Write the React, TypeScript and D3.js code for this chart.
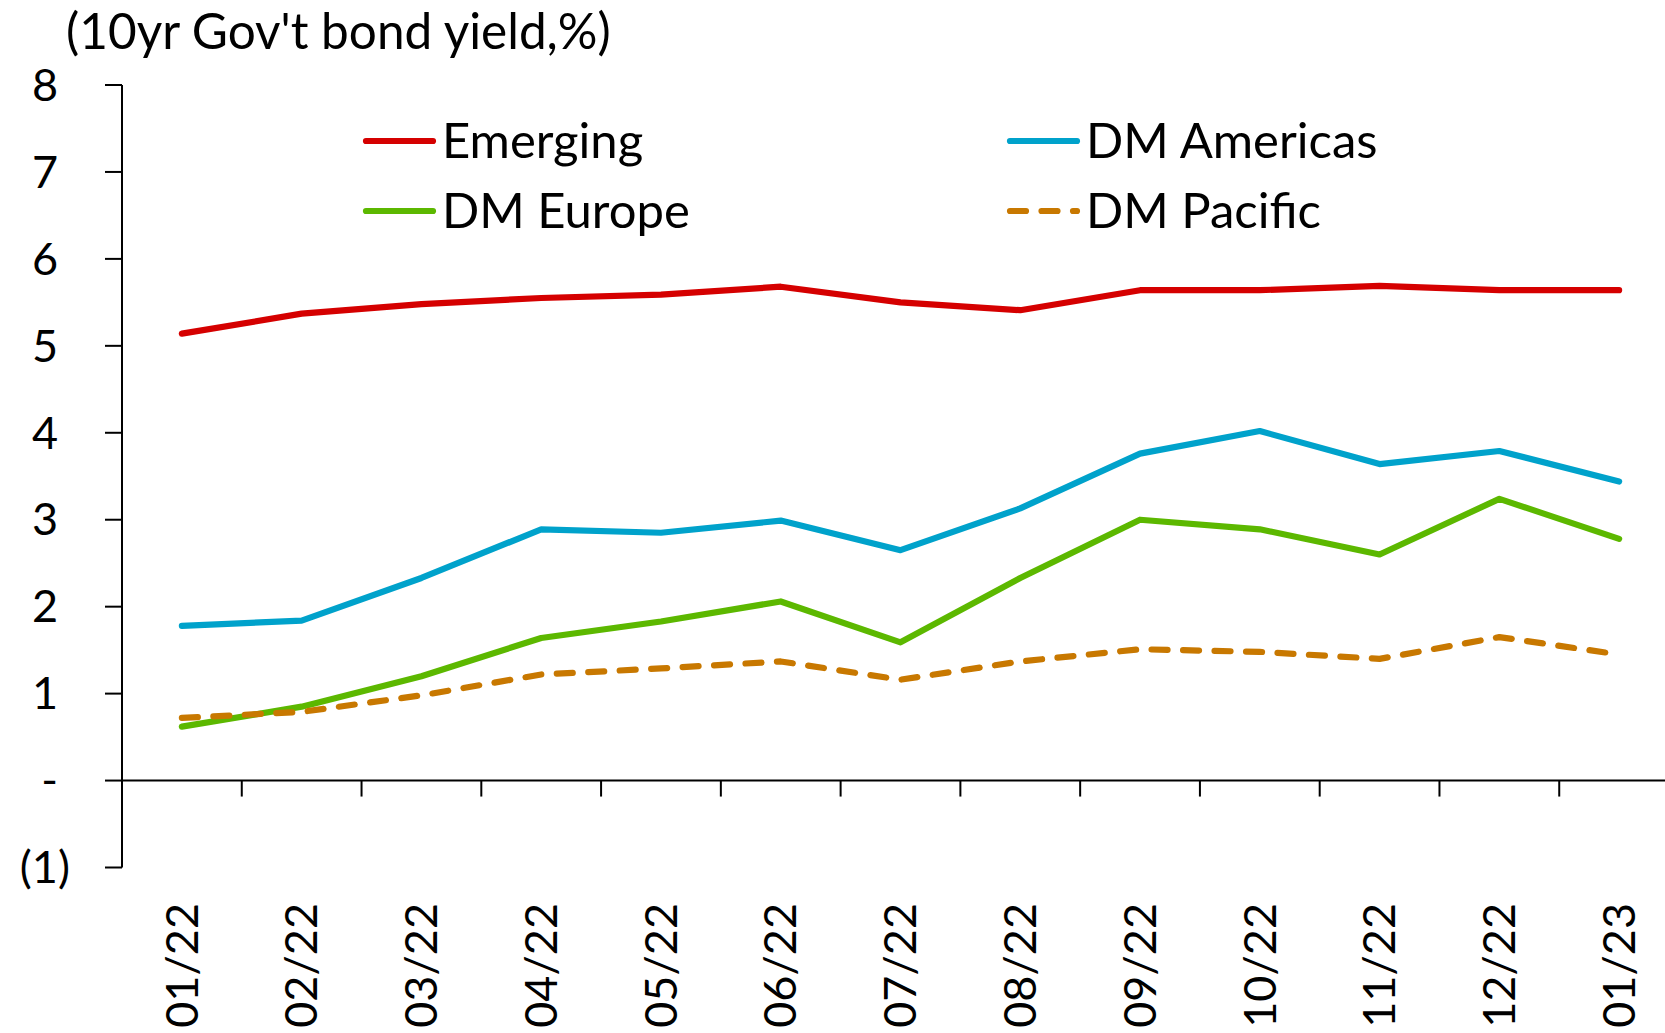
import React from "react";
import * as d3 from "d3";

const categories = ["01/22","02/22","03/22","04/22","05/22","06/22","07/22","08/22","09/22","10/22","11/22","12/22","01/23"];
const emerging = [5.14,5.37,5.48,5.55,5.59,5.68,5.50,5.41,5.64,5.64,5.69,5.64,5.64];
const dmAmericas = [1.78,1.84,2.33,2.89,2.85,2.99,2.65,3.13,3.76,4.02,3.64,3.79,3.44];
const dmEurope = [0.62,0.85,1.20,1.64,1.83,2.06,1.59,2.33,3.00,2.89,2.60,3.24,2.78];
const dmPacific = [0.72,0.79,0.98,1.22,1.29,1.37,1.16,1.37,1.51,1.48,1.40,1.65,1.45];
const yTicks = [-1,0,1,2,3,4,5,6,7,8];
const seriesNames = ["Emerging","DM Americas","DM Europe","DM Pacific"];
const titleText = "(10yr Gov't bond yield,%)";

const W = 1665, H = 1033;
const FONT = "Lato, 'Open Sans', sans-serif";
const FS_TICK = 45;
const FS_LEG = 49;
const FS_TITLE = 49.5;
const SW = 6.2;

export default function App() {
  const x = d3.scaleBand<string>().domain(categories).range([122, 1679]).padding(0);
  const y = d3.scaleLinear().domain([-1, 8]).range([867.5, 85]);
  const cx = (c: string) => (x(c) as number) + x.bandwidth() / 2;
  const line = d3.line<number>().x((_, i) => cx(categories[i])).y((d) => y(d));

  const series = [
    { name: seriesNames[0], values: emerging, color: "#d50000", dash: null },
    { name: seriesNames[1], values: dmAmericas, color: "#00a2cb", dash: null },
    { name: seriesNames[2], values: dmEurope, color: "#5cb800", dash: null },
    { name: seriesNames[3], values: dmPacific, color: "#c87800", dash: "16 15.5" },
  ];
  const legendPos = [
    { x: 366, y: 141 },
    { x: 1010, y: 141 },
    { x: 366, y: 211 },
    { x: 1010, y: 211 },
  ];
  const fmt = (v: number) => (v === 0 ? "-" : v < 0 ? `(${Math.abs(v)})` : `${v}`);
  const x0 = x.range()[0];
  const yZero = y(0);

  return (
    <svg width={W} height={H} style={{ position: "absolute", left: 0, top: 0, background: "#fff" }} fontFamily={FONT}>
      <text x={66} y={49} fontSize={FS_TITLE} fill="#000">{titleText}</text>
      {/* y axis */}
      <line x1={x0} x2={x0} y1={y(8)} y2={y(-1)} stroke="#000" strokeWidth={2} />
      {yTicks.map((t) => (
        <g key={t}>
          <line x1={x0 - 17} x2={x0} y1={y(t)} y2={y(t)} stroke="#000" strokeWidth={2} />
          <text x={70} y={y(t)} dy="0.35em" textAnchor="end" fontSize={FS_TICK} fill="#000">
            {fmt(t)}
            {t >= 0 ? <tspan fillOpacity={0}>)</tspan> : null}
          </text>
        </g>
      ))}
      {/* x axis */}
      <line x1={x0} x2={W} y1={yZero} y2={yZero} stroke="#000" strokeWidth={2} />
      {categories.slice(1).map((c) => (
        <line key={c} x1={x(c) as number} x2={x(c) as number} y1={yZero} y2={yZero + 16} stroke="#000" strokeWidth={2} />
      ))}
      {categories.map((c) => (
        <text key={c} transform={`translate(${cx(c)},903) rotate(-90)`} textAnchor="end" dy="0.35em" fontSize={FS_TICK} fill="#000">{c}</text>
      ))}
      {/* series */}
      {series.map((s) => (
        <path key={s.name} d={line(s.values) as string} fill="none" stroke={s.color} strokeWidth={SW}
          strokeLinecap="round" strokeLinejoin="round" strokeDasharray={s.dash ?? undefined} />
      ))}
      {/* legend */}
      {series.map((s, i) => (
        <g key={s.name}>
          <line x1={legendPos[i].x} x2={legendPos[i].x + 67} y1={legendPos[i].y} y2={legendPos[i].y}
            stroke={s.color} strokeWidth={SW} strokeLinecap="round" strokeDasharray={s.dash ?? undefined} />
          <text x={legendPos[i].x + 76} y={legendPos[i].y} dy="0.35em" fontSize={FS_LEG} fill="#000">{s.name}</text>
        </g>
      ))}
    </svg>
  );
}
